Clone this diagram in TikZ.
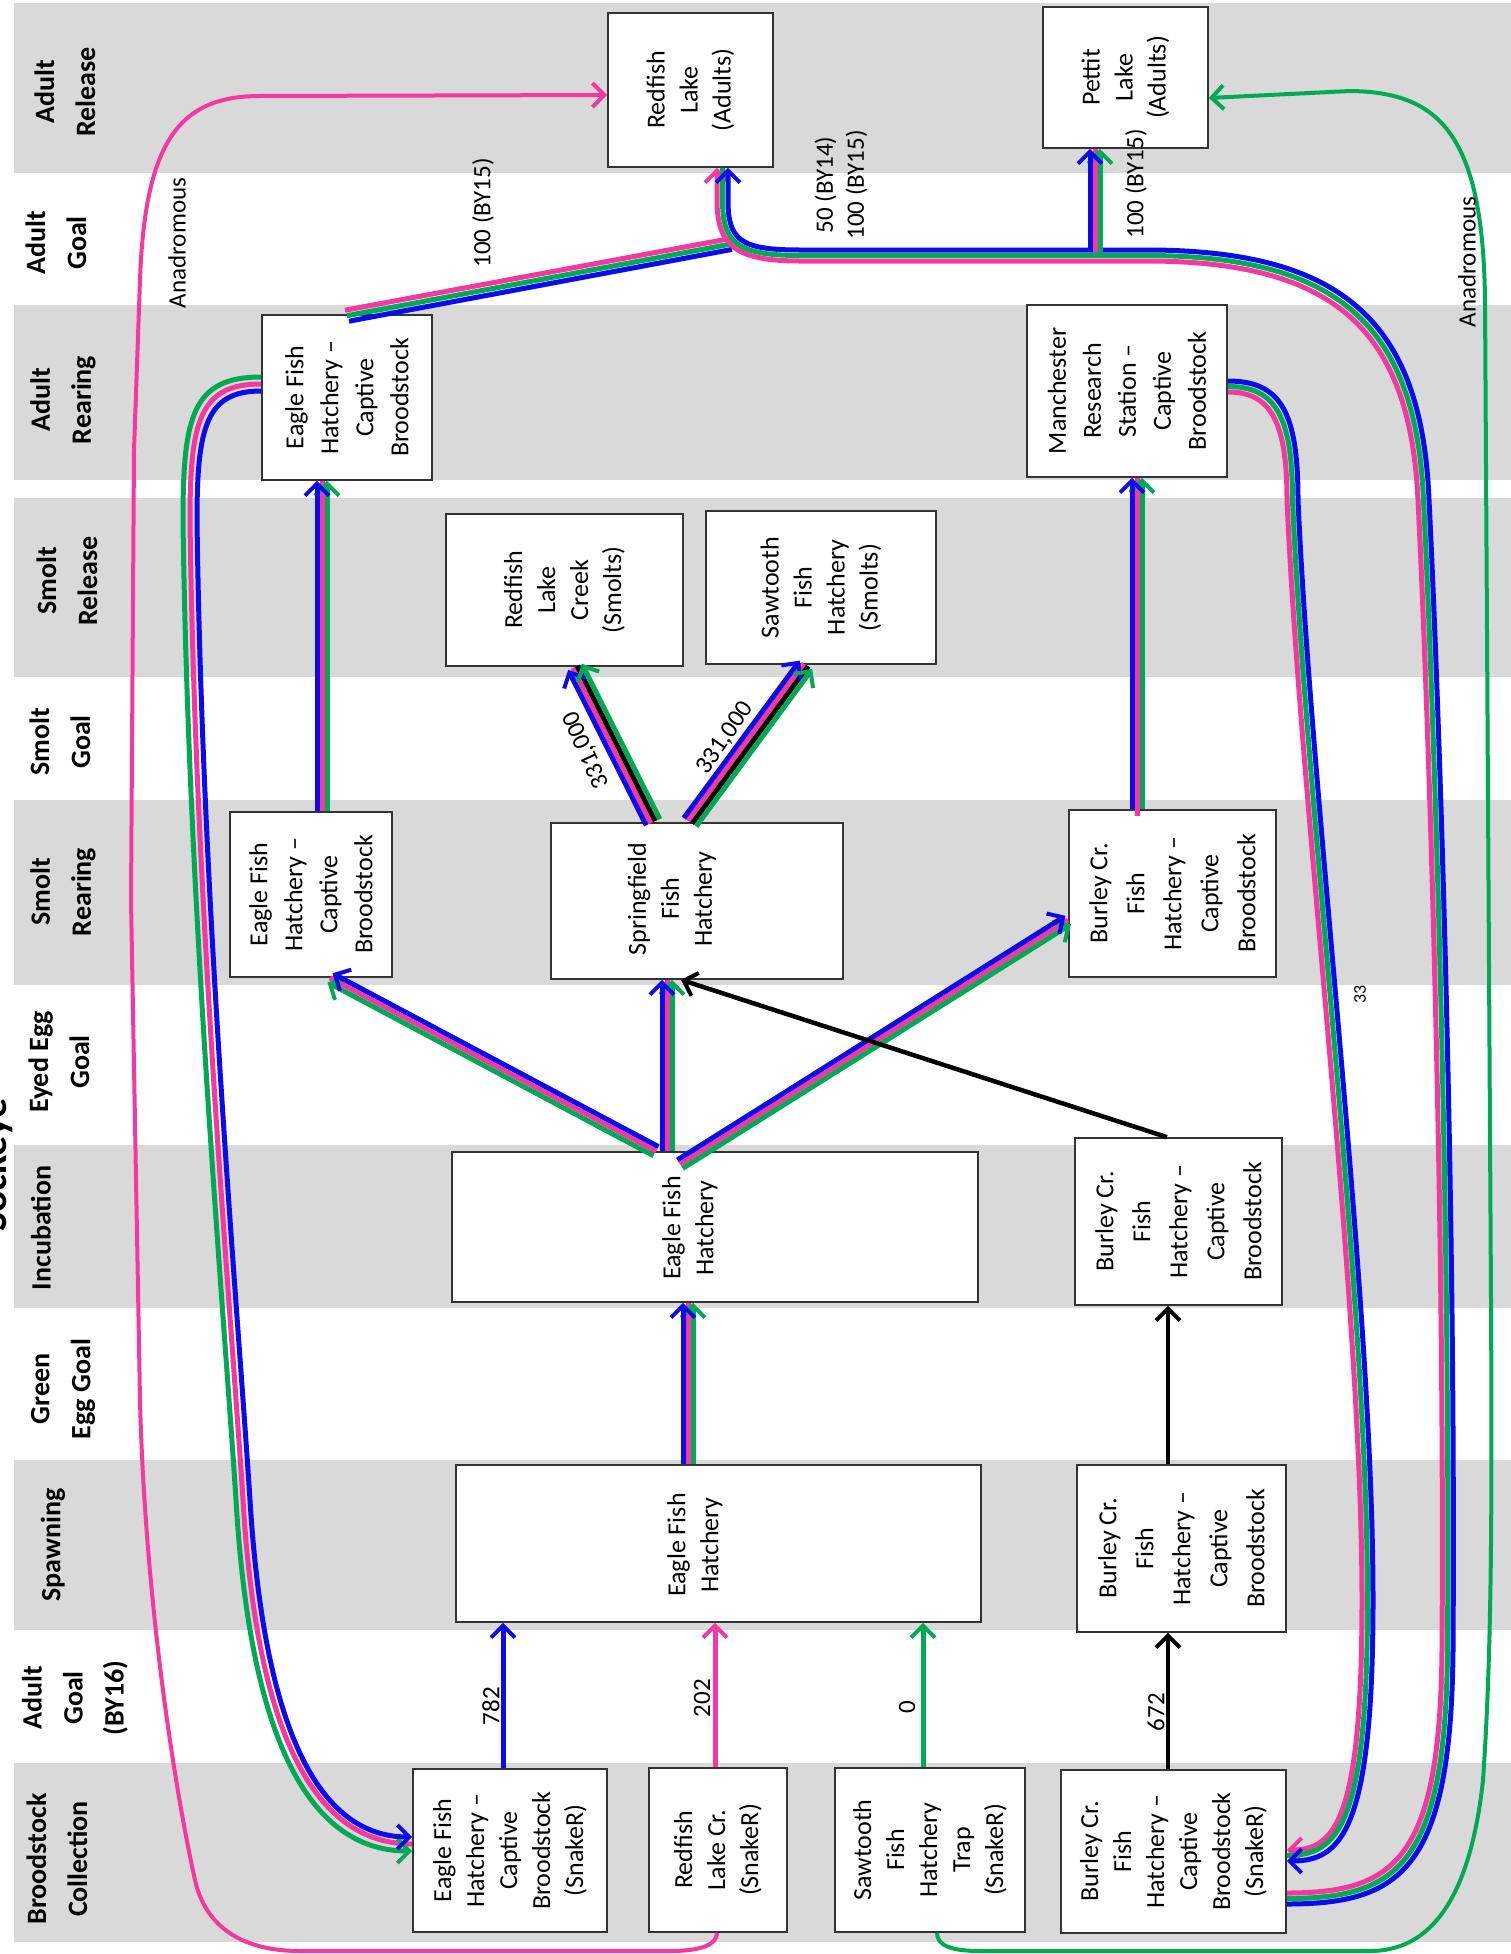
\documentclass[tikz,border=0pt]{standalone}
\usepackage{fontspec}
\setmainfont{Carlito}
\usetikzlibrary{arrows.meta,calc}
\definecolor{bandgray}{RGB}{217,217,217}
\definecolor{cblue}{RGB}{12,12,235}
\definecolor{cpink}{RGB}{245,55,160}
\definecolor{cgreen}{RGB}{0,170,85}
\begin{document}
\begin{tikzpicture}[x=1pt,y=-1pt,
 box/.style={draw=black!80,line width=1.6pt,fill=white,inner sep=0pt},
 bt/.style={rotate=90,align=center,inner sep=0pt,font=\fontsize{26}{33}\selectfont},
 btm/.style={rotate=90,align=center,inner sep=0pt,font=\fontsize{26}{35}\selectfont},
 btw/.style={rotate=90,align=center,inner sep=0pt,font=\fontsize{26}{37}\selectfont},
 bandlab/.style={rotate=90,align=center,inner sep=0pt,font=\fontsize{28}{41}\selectfont\bfseries},
 lab/.style={rotate=90,align=center,inner sep=0pt,font=\fontsize{25}{31}\selectfont},
 labr/.style={align=center,inner sep=0pt,font=\fontsize{25}{31}\selectfont},
 tip/.style={-{Straight Barb[length=12pt,width=24pt,line width=4pt]}},
 ln/.style={line width=5pt},
 fl/.style={ln,tip},
 an/.style={line width=4pt},
 bk/.style={line width=4.5pt,black,tip},
]
\useasboundingbox (0,0) rectangle (1511,1954);
\clip (0,0) rectangle (1511,1954);
\fill[white] (0,0) rectangle (1511,1954);
% bands
\fill[bandgray] (14,3) rectangle (1511,173);
\fill[bandgray] (14,305) rectangle (1511,480);
\fill[bandgray] (14,498) rectangle (1511,677);
\fill[bandgray] (14,800) rectangle (1511,985);
\fill[bandgray] (14,1145) rectangle (1511,1308);
\fill[bandgray] (14,1460) rectangle (1511,1630);
\fill[bandgray] (14,1763) rectangle (1511,1942);
% band labels
\node[bandlab] (bl1) at (65,92) {Adult\\Release};
\node[bandlab] (bl2) at (56,243) {Adult\\Goal};
\node[bandlab] (bl3) at (63,400) {Adult\\Rearing};
\node[bandlab] (bl4) at (67,581) {Smolt\\Release};
\node[bandlab] (bl5) at (60,742) {Smolt\\Goal};
\node[bandlab] (bl6) at (63,892) {Smolt\\Rearing};
\node[bandlab] (bl7) at (59,1062) {Eyed Egg\\Goal};
\node[bandlab] (bl8) at (41,1228) {Incubation};
\node[bandlab] (bl9) at (63,1389) {Green\\Egg Goal};
\node[bandlab] (bl10) at (53,1545) {Spawning};
\node[bandlab] (bl11) at (75,1698) {Adult\\Goal\\(BY16)};
\node[bandlab] (bl12) at (57,1859) {Broodstock\\Collection};
\node[rotate=90,anchor=base,inner sep=0pt,font=\fontsize{40}{40}\selectfont\bfseries] (title) at (6,1165) {Sockeye};
% boxes
\node[box,minimum width=165pt,minimum height=154pt] (rla) at (690.5,90) {};
\node[bt] (rlaT) at (rla) {Redfish\\Lake\\(Adults)};
\node[box,minimum width=165pt,minimum height=141pt] (pla) at (1125.5,77.5) {};
\node[bt] (plaT) at (pla) {Pettit\\Lake\\(Adults)};
\node[box,minimum width=170pt,minimum height=165pt] (efhA) at (347,397.5) {};
\node[btm] (efhAT) at (efhA) {Eagle Fish\\Hatchery –\\Captive\\Broodstock};
\node[box,minimum width=200pt,minimum height=172pt] (man) at (1127,391) {};
\node[btm] (manT) at (man) {Manchester\\Research\\Station –\\Captive\\Broodstock};
\node[box,minimum width=237pt,minimum height=152pt] (rlc) at (564.5,590) {};
\node[bt] (rlcT) at (rlc) {Redfish\\Lake\\Creek\\(Smolts)};
\node[box,minimum width=230pt,minimum height=153pt] (sts) at (821,587.5) {};
\node[bt] (stsT) at (sts) {Sawtooth\\Fish\\Hatchery\\(Smolts)};
\node[box,minimum width=162pt,minimum height=165pt] (efhS) at (311,894.5) {};
\node[btm] (efhST) at (efhS) {Eagle Fish\\Hatchery –\\Captive\\Broodstock};
\node[box,minimum width=292pt,minimum height=156pt] (spr) at (697,901) {};
\node[bt] (sprT) at (672,899) {Springfield\\Fish\\Hatchery};
\node[box,minimum width=207pt,minimum height=167pt] (bcS) at (1172.5,893.5) {};
\node[btw] (bcST) at (bcS) {Burley Cr.\\Fish\\Hatchery –\\Captive\\Broodstock};
\node[box,minimum width=526pt,minimum height=150pt] (efhI) at (715,1227) {};
\node[bt] (efhIT) at (690,1228) {Eagle Fish\\Hatchery};
\node[box,minimum width=207pt,minimum height=167pt] (bcI) at (1178.5,1221.5) {};
\node[btw] (bcIT) at (bcI) {Burley Cr.\\Fish\\Hatchery –\\Captive\\Broodstock};
\node[box,minimum width=525pt,minimum height=157pt] (efhP) at (718.5,1543.5) {};
\node[bt] (efhPT) at (695,1545) {Eagle Fish\\Hatchery};
\node[box,minimum width=209pt,minimum height=167pt] (bcP) at (1181.5,1548.5) {};
\node[btw] (bcPT) at (bcP) {Burley Cr.\\Fish\\Hatchery –\\Captive\\Broodstock};
\node[box,minimum width=194pt,minimum height=163pt] (efhB) at (510,1850.5) {};
\node[bt] (efhBT) at (efhB) {Eagle Fish\\Hatchery –\\Captive\\Broodstock\\(SnakeR)};
\node[box,minimum width=138pt,minimum height=164pt] (rlcB) at (718,1850) {};
\node[bt] (rlcBT) at (rlcB) {Redfish\\Lake Cr.\\(SnakeR)};
\node[box,minimum width=190pt,minimum height=164pt] (stB) at (930,1850) {};
\node[bt] (stBT) at (stB) {Sawtooth\\Fish\\Hatchery\\Trap\\(SnakeR)};
\node[box,minimum width=225pt,minimum height=163pt] (bcB) at (1173.5,1851.5) {};
\node[bt] (bcBT) at (bcB) {Burley Cr.\\Fish\\Hatchery –\\Captive\\Broodstock\\(SnakeR)};
% junction coordinates
\coordinate (jR) at (731,244);
\coordinate (jP) at (1095,252);
% bottom single arrows
\draw[fl,cblue] (efhB.north -| 503,0) -- (efhP.south -| 503,0);
\draw[fl,cpink] (rlcB.north -| 715,0) -- (efhP.south -| 715,0);
\draw[fl,cgreen] (stB.north -| 923,0) -- (efhP.south -| 923,0);
\draw[bk] (bcB.north -| 1168,0) -- (bcP.south -| 1168,0);
\draw[bk] (bcP.north -| 1168,0) -- (bcI.south -| 1168,0);
\node[lab] (l782) at (491,1706) {782};
\node[lab] (l202) at (702,1698) {202};
\node[lab] (l0) at (907,1707) {0};
\node[lab] (l672) at (1156,1712) {672};
% spawning -> incubation
\draw[ln,cpink] (efhP.north -| 688,0) -- (efhI.south -| 688,0);
\draw[fl,cgreen] (efhP.north -| 693,0) -- (efhI.south -| 693,0);
\draw[fl,cblue] (efhP.north -| 683,0) -- (efhI.south -| 683,0);
% incubation -> EFH smolt
\draw[ln,cpink] (efhI.north -| 656,0) -- (efhS.south -| 330,0);
\draw[fl,cgreen] ($(efhI.north -| 656,0)+(-2.5,4.5)$) -- ($(efhS.south -| 330,0)+(-2.5,4.5)$);
\draw[fl,cblue] ($(efhI.north -| 656,0)+(2.5,-4.5)$) -- ($(efhS.south -| 330,0)+(2.5,-4.5)$);
% incubation -> Springfield
\draw[ln,cpink] (efhI.north -| 667,0) -- (spr.south -| 667,0);
\draw[fl,cgreen] (efhI.north -| 672,0) -- (spr.south -| 672,0);
\draw[fl,cblue] (efhI.north -| 662,0) -- (spr.south -| 662,0);
% incubation -> Burley smolt
\draw[ln,cpink] ($(efhI.north -| 680,0)+(0,13)$) -- (bcS.west |- 0,920);
\draw[fl,cgreen] ($(efhI.north -| 680,0)+(2.7,17.2)$) -- ($(bcS.west |- 0,920)+(2.7,4.2)$);
\draw[fl,cblue] ($(efhI.north -| 680,0)+(-2.7,8.8)$) -- ($(bcS.west |- 0,920)+(-2.7,-4.2)$);
% Burley incubation -> Springfield
\draw[bk] (bcI.north -| 1167,0) -- (spr.south -| 681,0);
% Springfield -> Redfish Lake Creek
\draw[ln,cpink] ($(spr.north -| 653,0)+(-2.3,1)$) -- ($(rlc.south -| 575,0)+(-2.3,1)$);
\draw[ln,black] ($(spr.north -| 653,0)+(2.3,-1)$) -- ($(rlc.south -| 575,0)+(2.3,-1)$);
\draw[fl,cblue] ($(spr.north -| 653,0)+(-6.8,3.1)$) -- ($(rlc.south -| 575,0)+(-6.8,3.1)$);
\draw[fl,cgreen] ($(spr.north -| 653,0)+(6.8,-3.1)$) -- ($(rlc.south -| 575,0)+(6.8,-3.1)$);
% Springfield -> Sawtooth smolts
\draw[ln,cpink] ($(spr.north -| 690,0)+(-2.1,-1.4)$) -- ($(sts.south -| 806,0)+(-2.1,-1.4)$);
\draw[ln,black] ($(spr.north -| 690,0)+(2.1,1.4)$) -- ($(sts.south -| 806,0)+(2.1,1.4)$);
\draw[fl,cblue] ($(spr.north -| 690,0)+(-6.2,-4.2)$) -- ($(sts.south -| 806,0)+(-6.2,-4.2)$);
\draw[fl,cgreen] ($(spr.north -| 690,0)+(6.2,4.2)$) -- ($(sts.south -| 806,0)+(6.2,4.2)$);
\node[labr,rotate=114.5] (l331a) at (587,750) {331,000};
\node[labr,rotate=55.6] (l331b) at (725,738) {331,000};
% EFH smolt -> EFH adult
\draw[ln,cpink] (efhS.north -| 322,0) -- (efhA.south -| 322,0);
\draw[fl,cgreen] (efhS.north -| 327,0) -- (efhA.south -| 327,0);
\draw[fl,cblue] (efhS.north -| 317,0) -- (efhA.south -| 317,0);
% Burley smolt -> Manchester
\draw[ln,cpink] ($(bcS.north -| 1137,0)+(0,7)$) -- (man.south -| 1137,0);
\draw[fl,cgreen] (bcS.north -| 1142,0) -- (man.south -| 1142,0);
\draw[fl,cblue] (bcS.north -| 1132,0) -- (man.south -| 1132,0);
% EFH adult -> junction near Redfish Lake
\draw[ln,cpink] ($(efhA.north -| 345,0)+(0,-4)$) -- ($(jR)+(-1,-5.4)$);
\draw[ln,cgreen] ($(efhA.north -| 347,0)+(0,1.5)$) -- (jR);
\draw[ln,cblue] ($(efhA.north -| 349,0)+(0,7)$) -- ($(jR)+(1,5.4)$);
% Set B: Burley SnakeR -> Redfish Lake (outer right loop)
\draw[fl,cpink] (bcB.east |- 0,1893) .. controls (1395,1893) and (1440,1860) .. (1442,1650) .. controls (1445,1200) and (1428,700) .. (1418,500) .. controls (1410,330) and (1335,262) .. (1150,261) -- (800,261) .. controls (735,261) and (717,245) .. (717,200) -- (rla.south -| 717,0);
\draw[ln,cgreen] (bcB.east |- 0,1898.5) .. controls (1398,1898.5) and (1445.5,1865) .. (1447.5,1650) .. controls (1450.5,1200) and (1433.5,700) .. (1423.5,500) .. controls (1416,326) and (1339,256.5) .. (1150,255.5) -- (800,255.5) .. controls (737,255.5) and (722.5,243) .. (722.5,200) -- (rla.south -| 722.5,0);
\draw[fl,cblue] (bcB.east |- 0,1904) .. controls (1401,1904) and (1451,1870) .. (1453,1650) .. controls (1456,1200) and (1439,700) .. (1429,500) .. controls (1422,322) and (1343,251) .. (1150,250) -- (800,250) .. controls (740,250) and (728,240) .. (728,200) -- (rla.south -| 728,0);
% branch to Pettit Lake
\draw[ln,cpink] (jP) -- (pla.south -| jP);
\draw[fl,cgreen] ($(jP)+(5,0)$) -- (pla.south -| 1100,0);
\draw[fl,cblue] ($(jP)+(-5,-2)$) -- (pla.south -| 1090,0);
% Set A: Manchester -> Burley SnakeR
\draw[fl,cpink] (man.east |- 0,392) .. controls (1270,392) and (1287,420) .. (1287,500) .. controls (1300,800) and (1362,1300) .. (1362,1600) .. controls (1362,1820) and (1335,1850) .. (bcB.east |- 0,1850);
\draw[ln,cgreen] (man.east |- 0,386.5) .. controls (1275.5,386.5) and (1292.5,416) .. (1292.5,500) .. controls (1305.5,800) and (1367.5,1300) .. (1367.5,1600) .. controls (1367.5,1826) and (1338,1855.5) .. (bcB.east |- 0,1855.5);
\draw[fl,cblue] (man.east |- 0,381) .. controls (1281,381) and (1298,412) .. (1298,500) .. controls (1311,800) and (1373,1300) .. (1373,1600) .. controls (1373,1832) and (1341,1861) .. (bcB.east |- 0,1861);
% Set L: EFH adult -> EFH SnakeR (left loop)
\draw[ln,cpink] (efhA.west |- 0,384) .. controls (200,384) and (190,420) .. (190,520) .. controls (195,900) and (230,1300) .. (243,1500) .. controls (255,1700) and (300,1844) .. (efhB.west |- 0,1844);
\draw[fl,cgreen] (efhA.west |- 0,377) .. controls (193,377) and (183,415) .. (183,520) .. controls (188,900) and (223,1300) .. (236,1500) .. controls (248,1705) and (295,1851) .. (efhB.west |- 0,1851);
\draw[fl,cblue] (efhA.west |- 0,391) .. controls (207,391) and (197,425) .. (197,520) .. controls (202,900) and (237,1300) .. (250,1500) .. controls (262,1695) and (305,1837) .. (efhB.west |- 0,1837);
% Anadromous pink
\draw[an,cpink,tip] (rlcB.south -| 717,0) .. controls (717,1945) and (700,1951) .. (670,1951) -- (300,1951) .. controls (240,1951) and (205,1925) .. (195,1880) .. controls (175,1790) and (145,1600) .. (140,1400) -- (131,900) -- (134,450) -- (140,280) .. controls (145,140) and (180,96) .. (260,96) -- (rla.west |- 0,95);
\node[lab] (anaL) at (177,243) {Anadromous};
% Anadromous green
\draw[an,cgreen,tip] (stB.south -| 937,0) .. controls (937,1945) and (950,1951) .. (980,1951) -- (1370,1951) .. controls (1430,1951) and (1470,1900) .. (1483,1780) .. controls (1492,1650) and (1492,1500) .. (1491,1300) -- (1485,300) .. controls (1483,135) and (1440,92) .. (1350,91) -- (pla.east |- 0,98);
\node[lab] (anaR) at (1467,262) {Anadromous};
% goal labels
\node[lab] (g1) at (483,213) {100 (BY15)};
\node[lab] (g2) at (841,185) {50 (BY14)\\100 (BY15)};
\node[lab] (g3) at (1136,184) {100 (BY15)};
\node[lab,font=\fontsize{18}{18}\selectfont] (frag) at (1360,994) {33};
\end{tikzpicture}
\end{document}
